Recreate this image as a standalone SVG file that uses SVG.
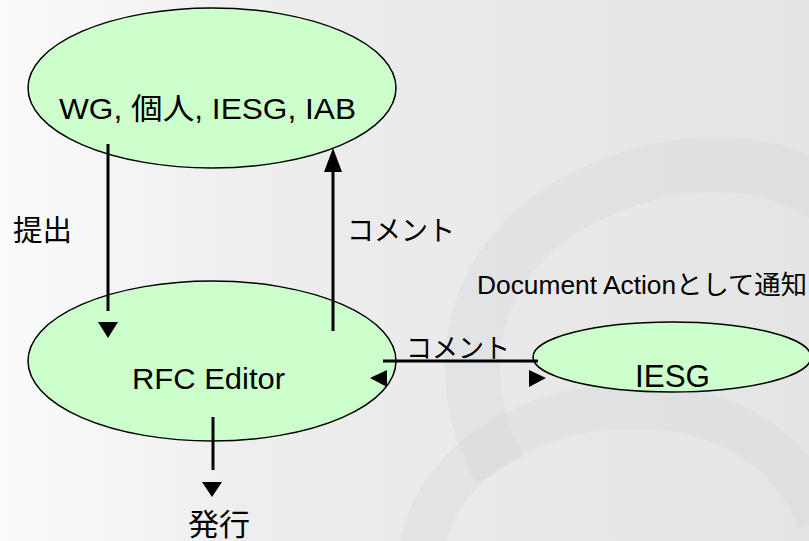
<svg xmlns="http://www.w3.org/2000/svg" width="809" height="541" viewBox="0 0 809 541">
<defs>
<linearGradient id="bg" x1="0" y1="0" x2="1" y2="0">
<stop offset="0" stop-color="#fbfbfb"/>
<stop offset="0.3" stop-color="#eeeeee"/>
<stop offset="1" stop-color="#e4e4e4"/>
</linearGradient>
<style>
.node ellipse{fill:#ccffcc;stroke:#000;stroke-width:1.5}
.t{font-family:"Liberation Sans","Noto Sans CJK JP",sans-serif;fill:#000}
.ln{stroke:#000;stroke-width:3;fill:none}
.ah{fill:#000}
.sw{fill:none;stroke:#d2d3d8;stroke-opacity:0.3}
</style>
</defs>
<rect width="809" height="541" fill="url(#bg)"/>
<g id="swirl">
<path class="sw" stroke-width="55" d="M500 470 C 440 360, 480 240, 600 190 C 690 150, 780 160, 830 200"/>
<path class="sw" stroke-width="45" d="M420 560 C 430 450, 560 390, 680 410 C 760 425, 800 470, 820 520"/>
</g>
<g id="node-top" class="node">
<ellipse cx="212" cy="88" rx="184" ry="80"/>
<text class="t" x="59" y="119" font-size="30" textLength="297" lengthAdjust="spacingAndGlyphs">WG, 個人, IESG, IAB</text>
</g>
<g id="node-rfc" class="node">
<ellipse cx="212" cy="361" rx="184" ry="80"/>
<text class="t" x="132" y="389" font-size="30" textLength="153" lengthAdjust="spacingAndGlyphs">RFC Editor</text>
</g>
<g id="node-iesg" class="node">
<ellipse cx="672" cy="357" rx="139" ry="35"/>
<text class="t" x="635" y="387" font-size="31" textLength="75" lengthAdjust="spacingAndGlyphs">IESG</text>
</g>
<g id="connectors">
<line class="ln" x1="108" y1="144" x2="108" y2="311"/>
<polygon class="ah" points="98,322 118,322 108,338"/>
<line class="ln" x1="333" y1="331" x2="333" y2="168"/>
<polygon class="ah" points="324,172 342,172 333,148"/>
<line class="ln" x1="383" y1="361" x2="538" y2="361"/>
<polygon class="ah" points="387,370 387,387 370,378"/>
<polygon class="ah" points="529,370 529,387 546,378"/>
<line class="ln" x1="213" y1="417" x2="213" y2="470"/>
<polygon class="ah" points="202,482 222,482 212,497"/>
<text class="t" x="13" y="241" font-size="29" textLength="59" lengthAdjust="spacingAndGlyphs">提出</text>
<text class="t" x="347" y="241" font-size="28" textLength="108" lengthAdjust="spacingAndGlyphs">コメント</text>
<text class="t" x="406" y="358" font-size="27" textLength="104" lengthAdjust="spacingAndGlyphs">コメント</text>
<text class="t" x="477" y="294" font-size="26" textLength="330" lengthAdjust="spacingAndGlyphs">Document Actionとして通知</text>
<text class="t" x="188" y="535" font-size="30" textLength="62" lengthAdjust="spacingAndGlyphs">発行</text>
</g>
</svg>
